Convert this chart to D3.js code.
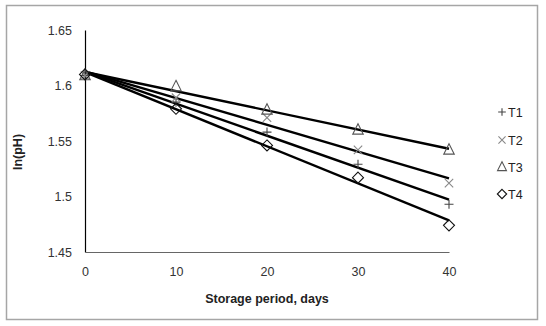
<!DOCTYPE html>
<html>
<head>
<meta charset="utf-8">
<script src="https://cdn.jsdelivr.net/npm/d3@7"></script>
<style>
  html, body { margin: 0; padding: 0; background: #fff; }
  svg { display: block; font-family: "Liberation Sans", Arial, sans-serif; }
</style>
</head>
<body>
<svg id="chart" width="546" height="326"></svg>
<script>
// Storage period (days) and ln(pH) per treatment
const days = [0, 10, 20, 30, 40];
const seriesNames = ["T1", "T2", "T3", "T4"];
const t1 = [1.609, 1.585, 1.558, 1.529, 1.493];
const t2 = [1.609, 1.589, 1.571, 1.542, 1.512];
const t3 = [1.609, 1.599, 1.578, 1.560, 1.542];
const t4 = [1.610, 1.579, 1.546, 1.517, 1.474];
const yTicks = [1.45, 1.5, 1.55, 1.6, 1.65];
const xTicks = [0, 10, 20, 30, 40];

const seriesValues = [t1, t2, t3, t4];
const symbols = ["plus", "cross", "triangle", "diamond"];
const markColors = ["#444", "#888", "#555", "#111"];

const svg = d3.select("#chart");

// outer frame
svg.append("rect")
  .attr("x", 6.5).attr("y", 5.5)
  .attr("width", 531).attr("height", 314)
  .attr("fill", "#fff").attr("stroke", "#a6a6a6").attr("stroke-width", 1.5);

const x = d3.scaleLinear().domain([0, 40]).range([85, 449]);
const y = d3.scaleLinear().domain([1.45, 1.65]).range([252, 30]);

// axes (no tick marks, labels only)
const yAxis = svg.append("g")
  .attr("transform", `translate(${x(0)},0)`)
  .call(d3.axisLeft(y).tickValues(yTicks).tickSize(0).tickPadding(13)
    .tickFormat(d => d3.format("")(+d.toFixed(2))));
yAxis.select(".domain").attr("stroke", "#000").attr("stroke-width", 1.2);
yAxis.selectAll("text").attr("font-size", 12.5).attr("fill", "#333")
  .attr("font-family", "Liberation Sans, Arial, sans-serif");

const xAxis = svg.append("g")
  .attr("transform", `translate(0,${y(1.45)})`)
  .call(d3.axisBottom(x).tickValues(xTicks).tickSize(0).tickPadding(15));
xAxis.select(".domain").attr("stroke", "#666").attr("stroke-width", 1.2);
xAxis.selectAll("text").attr("font-size", 12.5).attr("fill", "#333")
  .attr("font-family", "Liberation Sans, Arial, sans-serif");

// axis titles
svg.append("text")
  .attr("x", (x(0) + x(40)) / 2).attr("y", 303)
  .attr("text-anchor", "middle")
  .attr("font-size", 12.5).attr("font-weight", "bold").attr("fill", "#222")
  .text("Storage period, days");

svg.append("text")
  .attr("transform", `translate(22,${(y(1.45) + y(1.65)) / 2 + 11}) rotate(-90)`)
  .attr("text-anchor", "middle")
  .attr("font-size", 12.5).attr("font-weight", "bold").attr("fill", "#222")
  .text("ln(pH)");

// least-squares trend line for each series
function linearFit(xs, ys) {
  const mx = d3.mean(xs), my = d3.mean(ys);
  const sxy = d3.sum(xs, (v, i) => (v - mx) * (ys[i] - my));
  const sxx = d3.sum(xs, v => (v - mx) * (v - mx));
  const b = sxy / sxx;
  return { a: my - b * mx, b };
}

const trend = svg.append("g");
seriesValues.forEach(vals => {
  const f = linearFit(days, vals);
  const ends = [days[0], days[days.length - 1]];
  trend.append("line")
    .attr("x1", x(ends[0])).attr("y1", y(f.a + f.b * ends[0]))
    .attr("x2", x(ends[1])).attr("y2", y(f.a + f.b * ends[1]))
    .attr("stroke", "#000").attr("stroke-width", 2.4);
});

// marker path generators
function markerPath(type, s) {
  switch (type) {
    case "plus": return `M${-s},0H${s}M0,${-s}V${s}`;
    case "cross": return `M${-s},${-s}L${s},${s}M${-s},${s}L${s},${-s}`;
    case "triangle": return `M0,${-s * 1.25}L${s * 1.05},${s * 0.85}L${-s * 1.05},${s * 0.85}Z`;
    case "diamond": return `M0,${-s * 1.1}L${s * 1.1},0L0,${s * 1.1}L${-s * 1.1},0Z`;
  }
}
const sizes = { plus: 4.5, cross: 4.2, triangle: 5, diamond: 5 };

const marks = svg.append("g");
seriesValues.forEach((vals, si) => {
  const type = symbols[si];
  marks.selectAll(null)
    .data(days.map((d, i) => [d, vals[i]]))
    .join("path")
    .attr("transform", d => `translate(${x(d[0])},${y(d[1])})`)
    .attr("d", markerPath(type, sizes[type]))
    .attr("fill", "none")
    .attr("stroke", markColors[si])
    .attr("stroke-width", 1.1);
});

// legend
const legend = svg.append("g");
const legendY = [112, 140, 167, 194];
seriesNames.forEach((name, i) => {
  const type = symbols[i];
  legend.append("path")
    .attr("transform", `translate(502,${legendY[i]})`)
    .attr("d", markerPath(type, sizes[type] * 0.85))
    .attr("fill", "none").attr("stroke", markColors[i]).attr("stroke-width", 1.1);
  legend.append("text")
    .attr("x", 508).attr("y", legendY[i] + 4.5)
    .attr("font-size", 12.5).attr("fill", "#222")
    .text(name);
});
</script>
</body>
</html>
